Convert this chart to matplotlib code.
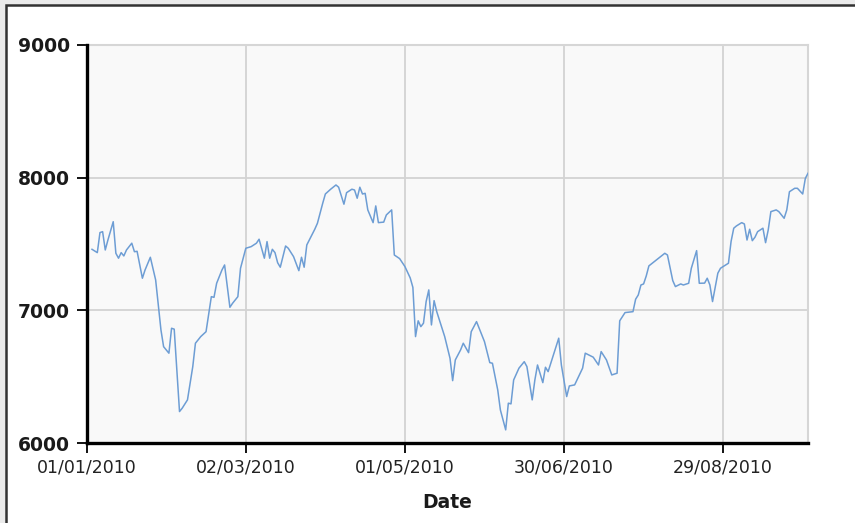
import matplotlib
matplotlib.use("Agg")
import matplotlib.pyplot as plt
import matplotlib.dates as mdates
from matplotlib.patches import Rectangle
import pandas as pd

# day offsets from 01/01/2010 and index values
day_offsets = [2, 4, 5, 6, 7, 8, 10, 11, 12, 13, 14, 15, 17, 18, 19, 21, 22, 24, 26, 28,
               29, 31, 32, 33, 35, 36, 38, 40, 41, 43, 45, 47, 48, 49, 51, 52, 54, 55, 57, 58,
               60, 62, 64, 65, 67, 68, 69, 70, 71, 72, 73, 75, 76, 78, 80, 81, 82, 83, 86, 87,
               89, 90, 92, 94, 95, 97, 98, 100, 101, 102, 103, 104, 105, 106, 108, 109, 110, 112, 113, 115,
               116, 118, 120, 122, 123, 124, 125, 126, 127, 128, 129, 130, 131, 132, 135, 137, 138, 139, 141, 142,
               144, 145, 147, 148, 150, 152, 153, 155, 156, 158, 159, 160, 161, 163, 165, 166, 168, 169, 170, 172,
               173, 174, 176, 178, 179, 181, 182, 184, 186, 187, 188, 191, 193, 194, 196, 198, 200, 201, 203, 206,
               207, 208, 209, 210, 211, 212, 214, 216, 218, 219, 221, 222, 224, 225, 227, 228, 230, 231, 233, 234,
               235, 236, 238, 239, 240, 242, 243, 244, 245, 247, 248, 249, 250, 251, 252, 253, 255, 256, 257, 258,
               260, 261, 263, 264, 265, 267, 268, 270, 271, 272]
values = [7460, 7435, 7586, 7593, 7455, 7530, 7668, 7430, 7393, 7435, 7410, 7455, 7506, 7442, 7445, 7242, 7304, 7400, 7229, 6852,
          6726, 6677, 6865, 6858, 6237, 6262, 6325, 6576, 6752, 6802, 6839, 7103, 7098, 7204, 7304, 7342, 7023, 7053, 7103, 7317,
          7468, 7480, 7506, 7536, 7393, 7518, 7393, 7460, 7435, 7359, 7325, 7485, 7468, 7405, 7299, 7400, 7325, 7493, 7611, 7656,
          7807, 7877, 7913, 7945, 7928, 7800, 7887, 7913, 7907, 7845, 7928, 7877, 7882, 7757, 7661, 7787, 7661, 7665, 7719, 7757,
          7417, 7390, 7330, 7244, 7173, 6802, 6921, 6877, 6903, 7066, 7154, 6890, 7073, 6990, 6802, 6639, 6470, 6626, 6702, 6752,
          6681, 6839, 6915, 6865, 6764, 6606, 6601, 6400, 6249, 6099, 6300, 6295, 6475, 6564, 6613, 6576, 6325, 6475, 6588, 6455,
          6571, 6538, 6664, 6790, 6588, 6350, 6430, 6438, 6521, 6564, 6677, 6647, 6588, 6689, 6626, 6513, 6526, 6921, 6983, 6990,
          7084, 7116, 7191, 7199, 7259, 7335, 7367, 7400, 7430, 7417, 7224, 7179, 7199, 7191, 7204, 7317, 7450, 7204, 7205, 7242,
          7191, 7066, 7280, 7317, 7330, 7355, 7520, 7619, 7636, 7661, 7651, 7530, 7611, 7525, 7551, 7593, 7619, 7510, 7606, 7744,
          7757, 7744, 7694, 7757, 7894, 7920, 7920, 7877, 7995, 8033]

start_date = "2010-01-01"
end_date = "2010-09-30"
y_ticks = [6000, 7000, 8000, 9000]
x_tick_days = [0, 60, 120, 180, 240]
x_label = "Date"

base = pd.Timestamp(start_date)
dates = [base + pd.Timedelta(days=d) for d in day_offsets]
tick_dates = [base + pd.Timedelta(days=d) for d in x_tick_days]

fig = plt.figure(figsize=(8.55, 5.23), dpi=100)
fig.patch.set_facecolor("#ebebeb")
W, H = 855, 523
fig.patches.append(Rectangle((5.5 / W, -0.1), 1.2, 1.1 - 5.5 / H, transform=fig.transFigure,
                             facecolor="white", edgecolor="#333333", linewidth=1.8, zorder=-10))

ax = fig.add_axes([86.7 / W, 1 - 443 / H, (808 - 86.7) / W, (443 - 45) / H])
ax.set_zorder(5)
ax.set_facecolor("#f9f9f9")
ax.plot(dates, values, color="#6d9dd4", linewidth=1.1, zorder=3)

ax.set_ylim(6000, 9000)
ax.set_xlim(base, pd.Timestamp(end_date))
ax.set_yticks(y_ticks)
ax.set_xticks(tick_dates)
ax.xaxis.set_major_formatter(mdates.DateFormatter("%d/%m/%Y"))
ax.grid(True, color="#d3d3d3", linewidth=1.3, zorder=1)
ax.set_axisbelow(True)

for s in ["top", "right"]:
    ax.spines[s].set_color("#d6d6d6")
    ax.spines[s].set_linewidth(1.5)
for s in ["left", "bottom"]:
    ax.spines[s].set_color("black")
    ax.spines[s].set_linewidth(2.4)
    ax.spines[s].set_zorder(4)

ax.tick_params(axis="both", direction="out", length=7, width=1.3, color="black")
ax.tick_params(axis="y", pad=5, labelsize=13.5, labelcolor="#1a1a1a")
ax.tick_params(axis="x", pad=4, labelsize=12.5, labelcolor="#222222")
for lab in ax.get_yticklabels():
    lab.set_fontweight("bold")

ax.set_xlabel(x_label, fontsize=13.5, fontweight="bold", color="#1a1a1a", labelpad=12)

fig.savefig("out.png", dpi=100, facecolor=fig.get_facecolor())
